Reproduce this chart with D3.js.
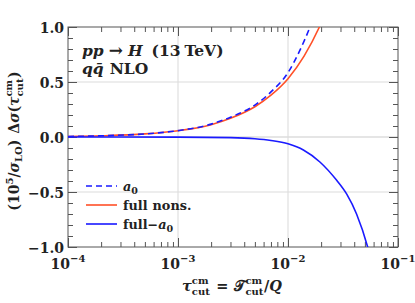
<!DOCTYPE html>
<html><head><meta charset="utf-8">
<script src="https://cdn.jsdelivr.net/npm/d3@7"></script>
<style>
html,body{margin:0;padding:0;background:#fff;}
text{font-family:"DejaVu Serif",serif;font-weight:bold;fill:#222;}
</style></head>
<body><svg id="c" width="415" height="303"></svg>
<script>
// ---- data ----
const tauFull = [1e-4, 2e-4, 5e-4, 1e-3, 2e-3, 3e-3, 5e-3, 7e-3, 1e-2, 1.4e-2, 1.93e-2, 2.2e-2];
const fullNons = [0.005, 0.011, 0.028, 0.057, 0.112, 0.17, 0.275, 0.38, 0.53, 0.735, 1.00, 1.13];

const tauA0 = [1e-4, 2e-4, 5e-4, 1e-3, 2e-3, 3e-3, 5e-3, 7e-3, 1e-2, 1.285e-2, 1.585e-2, 1.8e-2];
const a0 = [0.005, 0.011, 0.028, 0.058, 0.117, 0.18, 0.29, 0.41, 0.585, 0.79, 1.00, 1.15];

const tauDiff = [1e-4, 1e-3, 3e-3, 5e-3, 7e-3, 1e-2, 1.38e-2, 1.95e-2, 2.77e-2, 3.42e-2, 4.2e-2, 5.3e-2, 5.6e-2];
const fullMinusA0 = [0, -0.001, -0.006, -0.016, -0.032, -0.062, -0.118, -0.227, -0.394, -0.52, -0.70, -1.0, -1.09];

const xMajor = [1e-4, 1e-3, 1e-2, 1e-1];
const xMajorExp = ["\u22124", "\u22123", "\u22122", "\u22121"];
const yMajor = [-1, -0.5, 0, 0.5, 1];
const yMajorLabels = ["\u22121.0", "\u22120.5", "0.0", "0.5", "1.0"];
const xGrid = [1e-3, 1e-2];
const yGrid = [-0.5, 0, 0.5];

const BLUE = "#1a1aff", RED = "#ff5028";

// ---- layout ----
const svg = d3.select("#c");
const L = 68, R = 398, T = 27, B = 247;
const x = d3.scaleLog().domain([1e-4, 1e-1]).range([L, R]);
const y = d3.scaleLinear().domain([-1, 1]).range([B, T]);
const FS = 14, SS = 10;

// rich text helper
function rich(parent, pieces, px, py, anchor, rot, base) {
  const bs = base || FS;
  const outer = parent.append("g").attr("transform", `translate(${px},${py})` + (rot ? ` rotate(${rot})` : ""));
  const g = outer.append("g");
  let cx = 0;
  const mk = (t, it, size, dy) => g.append("text").attr("x", cx).attr("y", dy || 0).attr("font-size", size || bs)
      .attr("font-style", it ? "italic" : "normal").text(t);
  pieces.forEach(p => {
    if (p.gap) { cx += p.gap; return; }
    if (p.sub !== undefined || p.sup !== undefined) {
      let w = 0;
      if (p.sup !== undefined) { const e = mk(p.sup, p.supIt, SS, p.supDy || -6); w = Math.max(w, e.node().getComputedTextLength()); }
      if (p.sub !== undefined) { const e = mk(p.sub, p.subIt, SS, p.subDy || 4); w = Math.max(w, e.node().getComputedTextLength()); }
      cx += w + 0.5;
      return;
    }
    const e = mk(p.t, p.it, p.size, p.dy);
    cx += e.node().getComputedTextLength();
  });
  const sh = anchor === "middle" ? -cx / 2 : anchor === "end" ? -cx : 0;
  g.attr("transform", `translate(${sh},0)`);
  return outer;
}

// grid
const grid = svg.append("g");
grid.selectAll(".gx").data(xGrid).join("line")
  .attr("x1", d => x(d)).attr("x2", d => x(d)).attr("y1", T).attr("y2", B)
  .attr("stroke", "#d9d9d9").attr("stroke-width", 1);
grid.selectAll(".gy").data(yGrid).join("line")
  .attr("x1", L).attr("x2", R).attr("y1", d => y(d)).attr("y2", d => y(d))
  .attr("stroke", "#dcdcdc").attr("stroke-width", d => d === 0 ? 1.6 : 1.2);

// axes (inward ticks, all four sides)
const xMinor = x.ticks(30).filter(v => !xMajor.some(m => Math.abs(Math.log10(v) - Math.log10(m)) < 1e-6));
const yMinor = d3.range(-1, 1.0001, 0.1).map(v => +v.toFixed(2)).filter(v => !yMajor.includes(v));
function styleAxis(g) {
  g.select(".domain").remove();
  g.selectAll("line").attr("stroke", "#555").attr("stroke-width", 1);
  g.selectAll("text").remove();
}
svg.append("g").attr("transform", `translate(0,${B})`).call(d3.axisBottom(x).tickValues(xMajor).tickSize(-9)).call(styleAxis);
svg.append("g").attr("transform", `translate(0,${B})`).call(d3.axisBottom(x).tickValues(xMinor).tickSize(-5)).call(styleAxis);
svg.append("g").attr("transform", `translate(0,${T})`).call(d3.axisTop(x).tickValues(xMajor).tickSize(-9)).call(styleAxis);
svg.append("g").attr("transform", `translate(0,${T})`).call(d3.axisTop(x).tickValues(xMinor).tickSize(-5)).call(styleAxis);
svg.append("g").attr("transform", `translate(${L},0)`).call(d3.axisLeft(y).tickValues(yMajor).tickSize(-9)).call(styleAxis);
svg.append("g").attr("transform", `translate(${L},0)`).call(d3.axisLeft(y).tickValues(yMinor).tickSize(-5)).call(styleAxis);
svg.append("g").attr("transform", `translate(${R},0)`).call(d3.axisRight(y).tickValues(yMajor).tickSize(-9)).call(styleAxis);
svg.append("g").attr("transform", `translate(${R},0)`).call(d3.axisRight(y).tickValues(yMinor).tickSize(-5)).call(styleAxis);

// frame
svg.append("rect").attr("x", L).attr("y", T).attr("width", R - L).attr("height", B - T)
  .attr("fill", "none").attr("stroke", "#555").attr("stroke-width", 1);

// curves
svg.append("clipPath").attr("id", "clip").append("rect").attr("x", L).attr("y", T).attr("width", R - L).attr("height", B - T);
const plot = svg.append("g").attr("clip-path", "url(#clip)");
const line = d3.line().x(d => x(d[0])).y(d => y(d[1])).curve(d3.curveMonotoneX);
plot.append("path").datum(d3.zip(tauFull, fullNons)).attr("d", line)
  .attr("fill", "none").attr("stroke", RED).attr("stroke-width", 1.6);
plot.append("path").datum(d3.zip(tauDiff, fullMinusA0)).attr("d", line)
  .attr("fill", "none").attr("stroke", BLUE).attr("stroke-width", 1.6);
plot.append("path").datum(d3.zip(tauA0, a0)).attr("d", line)
  .attr("fill", "none").attr("stroke", BLUE).attr("stroke-width", 1.6).attr("stroke-dasharray", "6,4");

// tick labels
yMajor.forEach((v, i) => {
  svg.append("text").attr("x", 64).attr("y", y(v) + 5.5).attr("text-anchor", "end")
    .attr("font-size", FS).text(yMajorLabels[i]);
});
xMajor.forEach((v, i) => {
  rich(svg, [{t: "10"}, {t: xMajorExp[i], size: SS, dy: -7}], x(v), 269, "middle");
});

// axis titles
rich(svg, [{t: "\u03C4", it: true}, {sup: "cm", sub: "cut", supDy: -7, subDy: 4},
  {gap: 6}, {t: "="}, {gap: 6}, {t: "\uD835\uDCAF"}, {sup: "cm", sub: "cut", supDy: -7, subDy: 4},
  {t: "/"}, {t: "Q", it: true}], 232, 291, "middle", 0, 14.5);

rich(svg, [{t: "(10"}, {t: "5", size: SS, dy: -6}, {t: "/"}, {t: "\u03C3", it: true}, {t: "LO", size: SS, dy: 3},
  {t: ")"}, {gap: 6}, {t: "\u0394"}, {t: "\u03C3", it: true}, {t: "("}, {t: "\u03C4", it: true},
  {sup: "cm", sub: "cut", supDy: -7, subDy: 4}, {t: ")"}], 19, 141, "middle", -90);

// annotation
rich(svg, [{t: "pp", it: true}, {gap: 5}, {t: "\u2192", size: 17, dy: 0}, {gap: 5}, {t: "H", it: true}, {gap: 9}, {t: "(13"}, {gap: 4}, {t: "TeV)"}], 82, 56, "start", 0, 15.5);
rich(svg, [{t: "q", it: true}, {t: "q\u0304", it: true}, {gap: 6}, {t: "NLO"}], 82, 74, "start", 0, 15.5);

// legend
const legItems = [
  {color: BLUE, dash: "6,4", label: [{t: "a", it: true}, {t: "0", size: 9.5, dy: 3}]},
  {color: RED, dash: null, label: [{t: "full"}, {gap: 5}, {t: "nons."}]},
  {color: BLUE, dash: null, label: [{t: "full\u2212"}, {t: "a", it: true}, {t: "0", size: 9.5, dy: 3}]}
];
const legY = [186, 205, 224];
legItems.forEach((it, i) => {
  svg.append("line").attr("x1", 86).attr("x2", 117).attr("y1", legY[i]).attr("y2", legY[i])
    .attr("stroke", it.color).attr("stroke-width", 1.6).attr("stroke-dasharray", it.dash);
  rich(svg, it.label, 123, legY[i] + 4.5, "start", 0, 12.8);
});
</script></body></html>
